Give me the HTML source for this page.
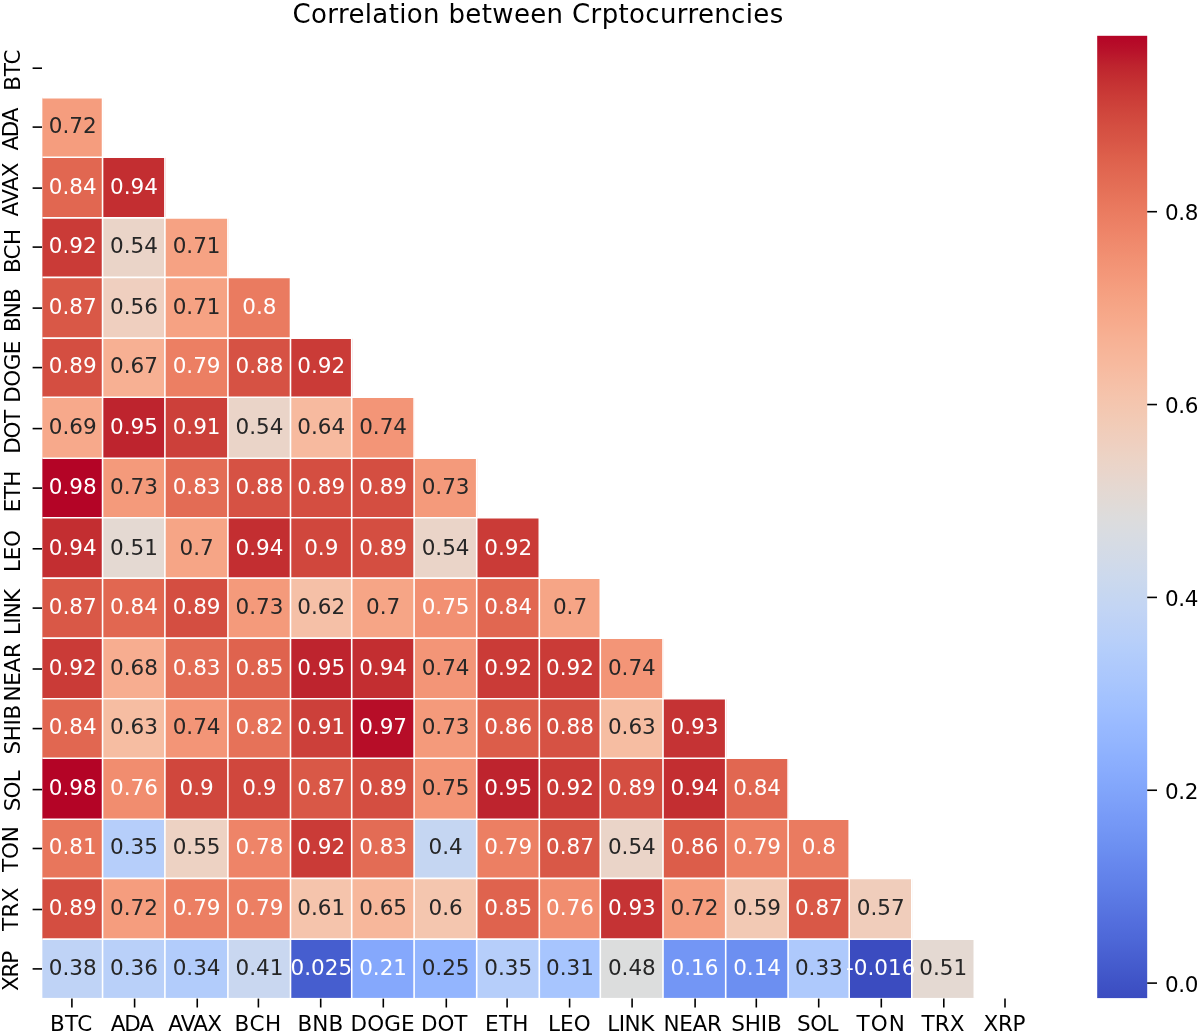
<!DOCTYPE html>
<html lang="en">
<head>
<meta charset="utf-8">
<title>Correlation between Crptocurrencies</title>
<style>
html,body{margin:0;padding:0;background:#fff;}
body{width:1200px;height:1033px;overflow:hidden;}
svg{display:block;filter:blur(0.45px);}
text{font-family:"DejaVu Sans","Liberation Sans",sans-serif;}
.a{font-size:21.5px;text-anchor:middle;letter-spacing:0px;}
.w{fill:#fff;}
.d{fill:#262626;}
.t{font-size:21.5px;fill:#000;}
.title{font-size:26.0px;fill:#000;}
.tk{stroke:#000;stroke-width:1.6;}
.gl{stroke:#fff;stroke-width:1.6;}
</style>
</head>
<body>
<svg width="1200" height="1033" viewBox="0 0 1200 1033">
<rect x="0" y="0" width="1200" height="1033" fill="#fff"/>
<defs><linearGradient id="cb" x1="0" y1="1" x2="0" y2="0">
<stop offset="0.0000" stop-color="#3b4cc0"/>
<stop offset="0.0156" stop-color="#3f53c6"/>
<stop offset="0.0312" stop-color="#445acc"/>
<stop offset="0.0469" stop-color="#4961d2"/>
<stop offset="0.0625" stop-color="#4e68d8"/>
<stop offset="0.0781" stop-color="#536edd"/>
<stop offset="0.0938" stop-color="#5875e1"/>
<stop offset="0.1094" stop-color="#5d7ce6"/>
<stop offset="0.1250" stop-color="#6282ea"/>
<stop offset="0.1406" stop-color="#6788ee"/>
<stop offset="0.1562" stop-color="#6c8ff1"/>
<stop offset="0.1719" stop-color="#7295f4"/>
<stop offset="0.1875" stop-color="#779af7"/>
<stop offset="0.2031" stop-color="#7da0f9"/>
<stop offset="0.2188" stop-color="#82a6fb"/>
<stop offset="0.2344" stop-color="#88abfd"/>
<stop offset="0.2500" stop-color="#8db0fe"/>
<stop offset="0.2656" stop-color="#93b5fe"/>
<stop offset="0.2812" stop-color="#98b9ff"/>
<stop offset="0.2969" stop-color="#9ebeff"/>
<stop offset="0.3125" stop-color="#a3c2fe"/>
<stop offset="0.3281" stop-color="#a9c6fd"/>
<stop offset="0.3438" stop-color="#aec9fc"/>
<stop offset="0.3594" stop-color="#b3cdfb"/>
<stop offset="0.3750" stop-color="#b9d0f9"/>
<stop offset="0.3906" stop-color="#bed2f6"/>
<stop offset="0.4062" stop-color="#c3d5f4"/>
<stop offset="0.4219" stop-color="#c7d7f0"/>
<stop offset="0.4375" stop-color="#ccd9ed"/>
<stop offset="0.4531" stop-color="#d1dae9"/>
<stop offset="0.4688" stop-color="#d5dbe5"/>
<stop offset="0.4844" stop-color="#d9dce1"/>
<stop offset="0.5000" stop-color="#dddcdc"/>
<stop offset="0.5156" stop-color="#e1dad6"/>
<stop offset="0.5312" stop-color="#e5d8d1"/>
<stop offset="0.5469" stop-color="#e9d5cb"/>
<stop offset="0.5625" stop-color="#ecd3c5"/>
<stop offset="0.5781" stop-color="#efcfbf"/>
<stop offset="0.5938" stop-color="#f1ccb8"/>
<stop offset="0.6094" stop-color="#f3c8b2"/>
<stop offset="0.6250" stop-color="#f5c4ac"/>
<stop offset="0.6406" stop-color="#f6bfa6"/>
<stop offset="0.6562" stop-color="#f7ba9f"/>
<stop offset="0.6719" stop-color="#f7b599"/>
<stop offset="0.6875" stop-color="#f7b093"/>
<stop offset="0.7031" stop-color="#f7aa8c"/>
<stop offset="0.7188" stop-color="#f6a586"/>
<stop offset="0.7344" stop-color="#f59f80"/>
<stop offset="0.7500" stop-color="#f4987a"/>
<stop offset="0.7656" stop-color="#f29274"/>
<stop offset="0.7812" stop-color="#f08b6e"/>
<stop offset="0.7969" stop-color="#ee8468"/>
<stop offset="0.8125" stop-color="#eb7d62"/>
<stop offset="0.8281" stop-color="#e8765c"/>
<stop offset="0.8438" stop-color="#e46e56"/>
<stop offset="0.8594" stop-color="#e16751"/>
<stop offset="0.8750" stop-color="#dd5f4b"/>
<stop offset="0.8906" stop-color="#d85646"/>
<stop offset="0.9062" stop-color="#d44e41"/>
<stop offset="0.9219" stop-color="#cf453c"/>
<stop offset="0.9375" stop-color="#ca3b37"/>
<stop offset="0.9531" stop-color="#c43032"/>
<stop offset="0.9688" stop-color="#be242e"/>
<stop offset="0.9844" stop-color="#b8122a"/>
<stop offset="1.0000" stop-color="#b40426"/>
</linearGradient></defs>
<text id="title" class="title lab" x="292.55" y="23" style="letter-spacing:0.36px">Correlation between Crptocurrencies</text>
<g>
<rect x="42.35" y="97.7" width="60.7" height="60" fill="#f59d7e"/>
<rect x="42.35" y="157.2" width="60.7" height="61.15" fill="#e16751"/>
<rect x="102.55" y="157.2" width="62.85" height="61.15" fill="#c32e31"/>
<rect x="42.35" y="217.85" width="60.7" height="60.05" fill="#ca3b37"/>
<rect x="102.55" y="217.85" width="62.85" height="60.05" fill="#ead4c8"/>
<rect x="164.9" y="217.85" width="63.5" height="60.05" fill="#f6a283"/>
<rect x="42.35" y="277.4" width="60.7" height="61.2" fill="#d95847"/>
<rect x="102.55" y="277.4" width="62.85" height="61.2" fill="#efcfbf"/>
<rect x="164.9" y="277.4" width="63.5" height="61.2" fill="#f6a283"/>
<rect x="227.9" y="277.4" width="63.1" height="61.2" fill="#ea7b60"/>
<rect x="42.35" y="338.1" width="60.7" height="59.7" fill="#d44e41"/>
<rect x="102.55" y="338.1" width="62.85" height="59.7" fill="#f7b093"/>
<rect x="164.9" y="338.1" width="63.5" height="59.7" fill="#ec7f63"/>
<rect x="227.9" y="338.1" width="63.1" height="59.7" fill="#d65244"/>
<rect x="290.5" y="338.1" width="61.7" height="59.7" fill="#ca3b37"/>
<rect x="42.35" y="397.3" width="60.7" height="61.4" fill="#f7a98b"/>
<rect x="102.55" y="397.3" width="62.85" height="61.4" fill="#be242e"/>
<rect x="164.9" y="397.3" width="63.5" height="61.4" fill="#cc403a"/>
<rect x="227.9" y="397.3" width="63.1" height="61.4" fill="#ead4c8"/>
<rect x="290.5" y="397.3" width="61.7" height="61.4" fill="#f7ba9f"/>
<rect x="351.7" y="397.3" width="62.9" height="61.4" fill="#f39577"/>
<rect x="42.35" y="458.2" width="60.7" height="60" fill="#b40426"/>
<rect x="102.55" y="458.2" width="62.85" height="60" fill="#f49a7b"/>
<rect x="164.9" y="458.2" width="63.5" height="60" fill="#e36c55"/>
<rect x="227.9" y="458.2" width="63.1" height="60" fill="#d65244"/>
<rect x="290.5" y="458.2" width="61.7" height="60" fill="#d44e41"/>
<rect x="351.7" y="458.2" width="62.9" height="60" fill="#d44e41"/>
<rect x="414.1" y="458.2" width="63.1" height="60" fill="#f49a7b"/>
<rect x="42.35" y="517.7" width="60.7" height="60.9" fill="#c32e31"/>
<rect x="102.55" y="517.7" width="62.85" height="60.9" fill="#e4d9d2"/>
<rect x="164.9" y="517.7" width="63.5" height="60.9" fill="#f6a586"/>
<rect x="227.9" y="517.7" width="63.1" height="60.9" fill="#c32e31"/>
<rect x="290.5" y="517.7" width="61.7" height="60.9" fill="#d0473d"/>
<rect x="351.7" y="517.7" width="62.9" height="60.9" fill="#d44e41"/>
<rect x="414.1" y="517.7" width="63.1" height="60.9" fill="#ead4c8"/>
<rect x="476.7" y="517.7" width="63.1" height="60.9" fill="#ca3b37"/>
<rect x="42.35" y="578.1" width="60.7" height="60.5" fill="#d95847"/>
<rect x="102.55" y="578.1" width="62.85" height="60.5" fill="#e16751"/>
<rect x="164.9" y="578.1" width="63.5" height="60.5" fill="#d44e41"/>
<rect x="227.9" y="578.1" width="63.1" height="60.5" fill="#f49a7b"/>
<rect x="290.5" y="578.1" width="61.7" height="60.5" fill="#f5c0a7"/>
<rect x="351.7" y="578.1" width="62.9" height="60.5" fill="#f6a586"/>
<rect x="414.1" y="578.1" width="63.1" height="60.5" fill="#f29072"/>
<rect x="476.7" y="578.1" width="63.1" height="60.5" fill="#e16751"/>
<rect x="539.3" y="578.1" width="61.5" height="60.5" fill="#f6a586"/>
<rect x="42.35" y="638.1" width="60.7" height="61.2" fill="#ca3b37"/>
<rect x="102.55" y="638.1" width="62.85" height="61.2" fill="#f7ad90"/>
<rect x="164.9" y="638.1" width="63.5" height="61.2" fill="#e36c55"/>
<rect x="227.9" y="638.1" width="63.1" height="61.2" fill="#df634e"/>
<rect x="290.5" y="638.1" width="61.7" height="61.2" fill="#be242e"/>
<rect x="351.7" y="638.1" width="62.9" height="61.2" fill="#c32e31"/>
<rect x="414.1" y="638.1" width="63.1" height="61.2" fill="#f39577"/>
<rect x="476.7" y="638.1" width="63.1" height="61.2" fill="#ca3b37"/>
<rect x="539.3" y="638.1" width="61.5" height="61.2" fill="#ca3b37"/>
<rect x="600.3" y="638.1" width="63.2" height="61.2" fill="#f39577"/>
<rect x="42.35" y="698.8" width="60.7" height="59.9" fill="#e16751"/>
<rect x="102.55" y="698.8" width="62.85" height="59.9" fill="#f6bda2"/>
<rect x="164.9" y="698.8" width="63.5" height="59.9" fill="#f39577"/>
<rect x="227.9" y="698.8" width="63.1" height="59.9" fill="#e67259"/>
<rect x="290.5" y="698.8" width="61.7" height="59.9" fill="#cc403a"/>
<rect x="351.7" y="698.8" width="62.9" height="59.9" fill="#b70d28"/>
<rect x="414.1" y="698.8" width="63.1" height="59.9" fill="#f49a7b"/>
<rect x="476.7" y="698.8" width="63.1" height="59.9" fill="#dc5d4a"/>
<rect x="539.3" y="698.8" width="61.5" height="59.9" fill="#d65244"/>
<rect x="600.3" y="698.8" width="63.2" height="59.9" fill="#f6bda2"/>
<rect x="663" y="698.8" width="63.2" height="59.9" fill="#c53334"/>
<rect x="42.35" y="758.2" width="60.7" height="61.5" fill="#b40426"/>
<rect x="102.55" y="758.2" width="62.85" height="61.5" fill="#f18d6f"/>
<rect x="164.9" y="758.2" width="63.5" height="61.5" fill="#d0473d"/>
<rect x="227.9" y="758.2" width="63.1" height="61.5" fill="#d0473d"/>
<rect x="290.5" y="758.2" width="61.7" height="61.5" fill="#d95847"/>
<rect x="351.7" y="758.2" width="62.9" height="61.5" fill="#d44e41"/>
<rect x="414.1" y="758.2" width="63.1" height="61.5" fill="#f39475"/>
<rect x="476.7" y="758.2" width="63.1" height="61.5" fill="#be242e"/>
<rect x="539.3" y="758.2" width="61.5" height="61.5" fill="#ca3b37"/>
<rect x="600.3" y="758.2" width="63.2" height="61.5" fill="#d44e41"/>
<rect x="663" y="758.2" width="63.2" height="61.5" fill="#c32e31"/>
<rect x="725.7" y="758.2" width="62.9" height="61.5" fill="#e16751"/>
<rect x="42.35" y="819.2" width="60.7" height="59.7" fill="#e8765c"/>
<rect x="102.55" y="819.2" width="62.85" height="59.7" fill="#b6cefa"/>
<rect x="164.9" y="819.2" width="63.5" height="59.7" fill="#edd2c3"/>
<rect x="227.9" y="819.2" width="63.1" height="59.7" fill="#ee8468"/>
<rect x="290.5" y="819.2" width="61.7" height="59.7" fill="#ca3b37"/>
<rect x="351.7" y="819.2" width="62.9" height="59.7" fill="#e36c55"/>
<rect x="414.1" y="819.2" width="63.1" height="59.7" fill="#c5d6f2"/>
<rect x="476.7" y="819.2" width="63.1" height="59.7" fill="#ec7f63"/>
<rect x="539.3" y="819.2" width="61.5" height="59.7" fill="#d95847"/>
<rect x="600.3" y="819.2" width="63.2" height="59.7" fill="#ead4c8"/>
<rect x="663" y="819.2" width="63.2" height="59.7" fill="#dc5d4a"/>
<rect x="725.7" y="819.2" width="62.9" height="59.7" fill="#ec7f63"/>
<rect x="788.1" y="819.2" width="61.6" height="59.7" fill="#ea7b60"/>
<rect x="42.35" y="878.4" width="60.7" height="61.2" fill="#d44e41"/>
<rect x="102.55" y="878.4" width="62.85" height="61.2" fill="#f59d7e"/>
<rect x="164.9" y="878.4" width="63.5" height="61.2" fill="#ec7f63"/>
<rect x="227.9" y="878.4" width="63.1" height="61.2" fill="#ec7f63"/>
<rect x="290.5" y="878.4" width="61.7" height="61.2" fill="#f5c4ac"/>
<rect x="351.7" y="878.4" width="62.9" height="61.2" fill="#f7b79b"/>
<rect x="414.1" y="878.4" width="63.1" height="61.2" fill="#f4c6af"/>
<rect x="476.7" y="878.4" width="63.1" height="61.2" fill="#df634e"/>
<rect x="539.3" y="878.4" width="61.5" height="61.2" fill="#f18d6f"/>
<rect x="600.3" y="878.4" width="63.2" height="61.2" fill="#c53334"/>
<rect x="663" y="878.4" width="63.2" height="61.2" fill="#f59d7e"/>
<rect x="725.7" y="878.4" width="62.9" height="61.2" fill="#f2c9b4"/>
<rect x="788.1" y="878.4" width="61.6" height="61.2" fill="#d95847"/>
<rect x="849.2" y="878.4" width="63.1" height="61.2" fill="#f0cdbb"/>
<rect x="42.35" y="939.1" width="60.7" height="58.8" fill="#bfd3f6"/>
<rect x="102.55" y="939.1" width="62.85" height="58.8" fill="#b9d0f9"/>
<rect x="164.9" y="939.1" width="63.5" height="58.8" fill="#b2ccfb"/>
<rect x="227.9" y="939.1" width="63.1" height="58.8" fill="#c9d7f0"/>
<rect x="290.5" y="939.1" width="61.7" height="58.8" fill="#465ecf"/>
<rect x="351.7" y="939.1" width="62.9" height="58.8" fill="#85a8fc"/>
<rect x="414.1" y="939.1" width="63.1" height="58.8" fill="#93b5fe"/>
<rect x="476.7" y="939.1" width="63.1" height="58.8" fill="#b6cefa"/>
<rect x="539.3" y="939.1" width="61.5" height="58.8" fill="#a7c5fe"/>
<rect x="600.3" y="939.1" width="63.2" height="58.8" fill="#dcdddd"/>
<rect x="663" y="939.1" width="63.2" height="58.8" fill="#7396f5"/>
<rect x="725.7" y="939.1" width="62.9" height="58.8" fill="#6c8ff1"/>
<rect x="788.1" y="939.1" width="61.6" height="58.8" fill="#aec9fc"/>
<rect x="849.2" y="939.1" width="63.1" height="58.8" fill="#3b4cc0"/>
<rect x="911.8" y="939.1" width="63" height="58.8" fill="#e4d9d2"/>
</g>
<g class="gl">
<line x1="42.35" y1="97.7" x2="103.35" y2="97.7"/>
<line x1="42.35" y1="157.2" x2="165.7" y2="157.2"/>
<line x1="42.35" y1="217.85" x2="228.7" y2="217.85"/>
<line x1="42.35" y1="277.4" x2="291.3" y2="277.4"/>
<line x1="42.35" y1="338.1" x2="352.5" y2="338.1"/>
<line x1="42.35" y1="397.3" x2="414.9" y2="397.3"/>
<line x1="42.35" y1="458.2" x2="477.5" y2="458.2"/>
<line x1="42.35" y1="517.7" x2="540.1" y2="517.7"/>
<line x1="42.35" y1="578.1" x2="601.1" y2="578.1"/>
<line x1="42.35" y1="638.1" x2="663.8" y2="638.1"/>
<line x1="42.35" y1="698.8" x2="726.5" y2="698.8"/>
<line x1="42.35" y1="758.2" x2="788.9" y2="758.2"/>
<line x1="42.35" y1="819.2" x2="850" y2="819.2"/>
<line x1="42.35" y1="878.4" x2="912.6" y2="878.4"/>
<line x1="42.35" y1="939.1" x2="975.1" y2="939.1"/>
<line x1="102.55" y1="96.9" x2="102.55" y2="997.9"/>
<line x1="164.9" y1="156.4" x2="164.9" y2="997.9"/>
<line x1="227.9" y1="217.05" x2="227.9" y2="997.9"/>
<line x1="290.5" y1="276.6" x2="290.5" y2="997.9"/>
<line x1="351.7" y1="337.3" x2="351.7" y2="997.9"/>
<line x1="414.1" y1="396.5" x2="414.1" y2="997.9"/>
<line x1="476.7" y1="457.4" x2="476.7" y2="997.9"/>
<line x1="539.3" y1="516.9" x2="539.3" y2="997.9"/>
<line x1="600.3" y1="577.3" x2="600.3" y2="997.9"/>
<line x1="663" y1="637.3" x2="663" y2="997.9"/>
<line x1="725.7" y1="698" x2="725.7" y2="997.9"/>
<line x1="788.1" y1="757.4" x2="788.1" y2="997.9"/>
<line x1="849.2" y1="818.4" x2="849.2" y2="997.9"/>
<line x1="911.8" y1="877.6" x2="911.8" y2="997.9"/>
<line x1="974.3" y1="938.3" x2="974.3" y2="997.9"/>
</g>
<g>
<text class="a d" x="72.65" y="132.8">0.72</text>
<text class="a w" x="72.65" y="193.8">0.84</text>
<text class="a w" x="133.92" y="193.8">0.94</text>
<text class="a w" x="72.65" y="252.8">0.92</text>
<text class="a d" x="133.92" y="252.8">0.54</text>
<text class="a d" x="196.6" y="252.8">0.71</text>
<text class="a w" x="72.65" y="313.8">0.87</text>
<text class="a d" x="133.92" y="313.8">0.56</text>
<text class="a d" x="196.6" y="313.8">0.71</text>
<text class="a w" x="259.4" y="313.8">0.8</text>
<text class="a w" x="72.65" y="373.3">0.89</text>
<text class="a d" x="133.92" y="373.3">0.67</text>
<text class="a w" x="196.6" y="373.3">0.79</text>
<text class="a w" x="259.4" y="373.3">0.88</text>
<text class="a w" x="321.3" y="373.3">0.92</text>
<text class="a d" x="72.65" y="434.3">0.69</text>
<text class="a w" x="133.92" y="434.3">0.95</text>
<text class="a w" x="196.6" y="434.3">0.91</text>
<text class="a d" x="259.4" y="434.3">0.54</text>
<text class="a d" x="321.3" y="434.3">0.64</text>
<text class="a d" x="383.1" y="434.3">0.74</text>
<text class="a w" x="72.65" y="493.8">0.98</text>
<text class="a d" x="133.92" y="493.8">0.73</text>
<text class="a w" x="196.6" y="493.8">0.83</text>
<text class="a w" x="259.4" y="493.8">0.88</text>
<text class="a w" x="321.3" y="493.8">0.89</text>
<text class="a w" x="383.1" y="493.8">0.89</text>
<text class="a d" x="445.6" y="493.8">0.73</text>
<text class="a w" x="72.65" y="554.5">0.94</text>
<text class="a d" x="133.92" y="554.5">0.51</text>
<text class="a d" x="196.6" y="554.5">0.7</text>
<text class="a w" x="259.4" y="554.5">0.94</text>
<text class="a w" x="321.3" y="554.5">0.9</text>
<text class="a w" x="383.1" y="554.5">0.89</text>
<text class="a d" x="445.6" y="554.5">0.54</text>
<text class="a w" x="508.2" y="554.5">0.92</text>
<text class="a w" x="72.65" y="613.8">0.87</text>
<text class="a w" x="133.92" y="613.8">0.84</text>
<text class="a w" x="196.6" y="613.8">0.89</text>
<text class="a d" x="259.4" y="613.8">0.73</text>
<text class="a d" x="321.3" y="613.8">0.62</text>
<text class="a d" x="383.1" y="613.8">0.7</text>
<text class="a w" x="445.6" y="613.8">0.75</text>
<text class="a w" x="508.2" y="613.8">0.84</text>
<text class="a d" x="570" y="613.8">0.7</text>
<text class="a w" x="72.65" y="674.7">0.92</text>
<text class="a d" x="133.92" y="674.7">0.68</text>
<text class="a w" x="196.6" y="674.7">0.83</text>
<text class="a w" x="259.4" y="674.7">0.85</text>
<text class="a w" x="321.3" y="674.7">0.95</text>
<text class="a w" x="383.1" y="674.7">0.94</text>
<text class="a d" x="445.6" y="674.7">0.74</text>
<text class="a w" x="508.2" y="674.7">0.92</text>
<text class="a w" x="570" y="674.7">0.92</text>
<text class="a d" x="631.85" y="674.7">0.74</text>
<text class="a w" x="72.65" y="734.3">0.84</text>
<text class="a d" x="133.92" y="734.3">0.63</text>
<text class="a d" x="196.6" y="734.3">0.74</text>
<text class="a w" x="259.4" y="734.3">0.82</text>
<text class="a w" x="321.3" y="734.3">0.91</text>
<text class="a w" x="383.1" y="734.3">0.97</text>
<text class="a d" x="445.6" y="734.3">0.73</text>
<text class="a w" x="508.2" y="734.3">0.86</text>
<text class="a w" x="570" y="734.3">0.88</text>
<text class="a d" x="631.85" y="734.3">0.63</text>
<text class="a w" x="694.55" y="734.3">0.93</text>
<text class="a w" x="72.65" y="795.3">0.98</text>
<text class="a w" x="133.92" y="795.3">0.76</text>
<text class="a w" x="196.6" y="795.3">0.9</text>
<text class="a w" x="259.4" y="795.3">0.9</text>
<text class="a w" x="321.3" y="795.3">0.87</text>
<text class="a w" x="383.1" y="795.3">0.89</text>
<text class="a d" x="445.6" y="795.3">0.75</text>
<text class="a w" x="508.2" y="795.3">0.95</text>
<text class="a w" x="570" y="795.3">0.92</text>
<text class="a w" x="631.85" y="795.3">0.89</text>
<text class="a w" x="694.55" y="795.3">0.94</text>
<text class="a w" x="757.1" y="795.3">0.84</text>
<text class="a w" x="72.65" y="854.2">0.81</text>
<text class="a d" x="133.92" y="854.2">0.35</text>
<text class="a d" x="196.6" y="854.2">0.55</text>
<text class="a w" x="259.4" y="854.2">0.78</text>
<text class="a w" x="321.3" y="854.2">0.92</text>
<text class="a w" x="383.1" y="854.2">0.83</text>
<text class="a d" x="445.6" y="854.2">0.4</text>
<text class="a w" x="508.2" y="854.2">0.79</text>
<text class="a w" x="570" y="854.2">0.87</text>
<text class="a d" x="631.85" y="854.2">0.54</text>
<text class="a w" x="694.55" y="854.2">0.86</text>
<text class="a w" x="757.1" y="854.2">0.79</text>
<text class="a w" x="818.85" y="854.2">0.8</text>
<text class="a w" x="72.65" y="915.2">0.89</text>
<text class="a d" x="133.92" y="915.2">0.72</text>
<text class="a w" x="196.6" y="915.2">0.79</text>
<text class="a w" x="259.4" y="915.2">0.79</text>
<text class="a d" x="321.3" y="915.2">0.61</text>
<text class="a d" x="383.1" y="915.2">0.65</text>
<text class="a d" x="445.6" y="915.2">0.6</text>
<text class="a w" x="508.2" y="915.2">0.85</text>
<text class="a w" x="570" y="915.2">0.76</text>
<text class="a w" x="631.85" y="915.2">0.93</text>
<text class="a d" x="694.55" y="915.2">0.72</text>
<text class="a d" x="757.1" y="915.2">0.59</text>
<text class="a w" x="818.85" y="915.2">0.87</text>
<text class="a d" x="880.7" y="915.2">0.57</text>
<text class="a d" x="72.65" y="974.6">0.38</text>
<text class="a d" x="133.92" y="974.6">0.36</text>
<text class="a d" x="196.6" y="974.6">0.34</text>
<text class="a d" x="259.4" y="974.6">0.41</text>
<text class="a w" x="321.3" y="974.6">0.025</text>
<text class="a w" x="383.1" y="974.6">0.21</text>
<text class="a d" x="445.6" y="974.6">0.25</text>
<text class="a d" x="508.2" y="974.6">0.35</text>
<text class="a d" x="570" y="974.6">0.31</text>
<text class="a d" x="631.85" y="974.6">0.48</text>
<text class="a w" x="694.55" y="974.6">0.16</text>
<text class="a w" x="757.1" y="974.6">0.14</text>
<text class="a d" x="818.85" y="974.6">0.33</text>
<text class="a w" x="880.7" y="974.6">-0.016</text>
<text class="a d" x="943.25" y="974.6">0.51</text>
</g>
<g class="tk">
<line x1="71.9" y1="998.6" x2="71.9" y2="1007.5"/>
<line x1="32.6" y1="68.2" x2="42.0" y2="68.2"/>
<line x1="134.6" y1="998.6" x2="134.6" y2="1007.5"/>
<line x1="32.6" y1="127.1" x2="42.0" y2="127.1"/>
<line x1="197.25" y1="998.6" x2="197.25" y2="1007.5"/>
<line x1="32.6" y1="188.1" x2="42.0" y2="188.1"/>
<line x1="258.4" y1="998.6" x2="258.4" y2="1007.5"/>
<line x1="32.6" y1="247.1" x2="42.0" y2="247.1"/>
<line x1="320.7" y1="998.6" x2="320.7" y2="1007.5"/>
<line x1="32.6" y1="308.1" x2="42.0" y2="308.1"/>
<line x1="383.3" y1="998.6" x2="383.3" y2="1007.5"/>
<line x1="32.6" y1="367.6" x2="42.0" y2="367.6"/>
<line x1="446.3" y1="998.6" x2="446.3" y2="1007.5"/>
<line x1="32.6" y1="428.6" x2="42.0" y2="428.6"/>
<line x1="507.1" y1="998.6" x2="507.1" y2="1007.5"/>
<line x1="32.6" y1="488.1" x2="42.0" y2="488.1"/>
<line x1="569.6" y1="998.6" x2="569.6" y2="1007.5"/>
<line x1="32.6" y1="548.8" x2="42.0" y2="548.8"/>
<line x1="632.1" y1="998.6" x2="632.1" y2="1007.5"/>
<line x1="32.6" y1="608.1" x2="42.0" y2="608.1"/>
<line x1="695.1" y1="998.6" x2="695.1" y2="1007.5"/>
<line x1="32.6" y1="669" x2="42.0" y2="669"/>
<line x1="756.3" y1="998.6" x2="756.3" y2="1007.5"/>
<line x1="32.6" y1="728.6" x2="42.0" y2="728.6"/>
<line x1="818.7" y1="998.6" x2="818.7" y2="1007.5"/>
<line x1="32.6" y1="789.6" x2="42.0" y2="789.6"/>
<line x1="881.3" y1="998.6" x2="881.3" y2="1007.5"/>
<line x1="32.6" y1="848.5" x2="42.0" y2="848.5"/>
<line x1="943.8" y1="998.6" x2="943.8" y2="1007.5"/>
<line x1="32.6" y1="909.5" x2="42.0" y2="909.5"/>
<line x1="1005" y1="998.6" x2="1005" y2="1007.5"/>
<line x1="32.6" y1="968.9" x2="42.0" y2="968.9"/>
</g>
<g class="t">
<text id="x_BTC" class="lab" x="50.05" y="1030.6" style="letter-spacing:0.29px">BTC</text>
<text id="x_ADA" class="lab" x="110.8" y="1030.6" style="letter-spacing:-1.17px">ADA</text>
<text id="x_AVAX" class="lab" x="168.25" y="1030.6" style="letter-spacing:-0.78px">AVAX</text>
<text id="x_BCH" class="lab" x="234.4" y="1030.6" style="letter-spacing:0.63px">BCH</text>
<text id="x_BNB" class="lab" x="297.4" y="1030.6" style="letter-spacing:0.18px">BNB</text>
<text id="x_DOGE" class="lab" x="350.5" y="1030.6" style="letter-spacing:0.12px">DOGE</text>
<text id="x_DOT" class="lab" x="420.9" y="1030.6" style="letter-spacing:-0.04px">DOT</text>
<text id="x_ETH" class="lab" x="485.05" y="1030.6" style="letter-spacing:0.29px">ETH</text>
<text id="x_LEO" class="lab" x="548.05" y="1030.6" style="letter-spacing:0.07px">LEO</text>
<text id="x_LINK" class="lab" x="607.25" y="1030.6" style="letter-spacing:-0.48px">LINK</text>
<text id="x_NEAR" class="lab" x="663.55" y="1030.6" style="letter-spacing:-0.33px">NEAR</text>
<text id="x_SHIB" class="lab" x="731.25" y="1030.6" style="letter-spacing:-0.1px">SHIB</text>
<text id="x_SOL" class="lab" x="797.05" y="1030.6" style="letter-spacing:-0.5px">SOL</text>
<text id="x_TON" class="lab" x="856.4" y="1030.6" style="letter-spacing:1.19px">TON</text>
<text id="x_TRX" class="lab" x="921.4" y="1030.6" style="letter-spacing:0.18px">TRX</text>
<text id="x_XRP" class="lab" x="983.45" y="1030.6" style="letter-spacing:-0.27px">XRP</text>
<text id="y_BTC" class="lab" transform="translate(20.3 90.7) rotate(-90)" style="letter-spacing:-0.27px">BTC</text>
<text id="y_ADA" class="lab" transform="translate(18.4 150.45) rotate(-90)" style="letter-spacing:-1.4px">ADA</text>
<text id="y_AVAX" class="lab" transform="translate(18.4 216.4) rotate(-90)" style="letter-spacing:-0.7px">AVAX</text>
<text id="y_BCH" class="lab" transform="translate(20.3 273.05) rotate(-90)" style="letter-spacing:-0.72px">BCH</text>
<text id="y_BNB" class="lab" transform="translate(20.3 332.1) rotate(-90)" style="letter-spacing:-0.83px">BNB</text>
<text id="y_DOGE" class="lab" transform="translate(20.3 402.65) rotate(-90)" style="letter-spacing:-0.56px">DOGE</text>
<text id="y_DOT" class="lab" transform="translate(20.3 453.7) rotate(-90)" style="letter-spacing:-1.4px">DOT</text>
<text id="y_ETH" class="lab" transform="translate(20.3 512.15) rotate(-90)" style="letter-spacing:-0.61px">ETH</text>
<text id="y_LEO" class="lab" transform="translate(20.3 571.9) rotate(-90)" style="letter-spacing:-0.38px">LEO</text>
<text id="y_LINK" class="lab" transform="translate(20.3 635.05) rotate(-90)" style="letter-spacing:-0.78px">LINK</text>
<text id="y_NEAR" class="lab" transform="translate(20.3 701.4) rotate(-90)" style="letter-spacing:-0.33px">NEAR</text>
<text id="y_SHIB" class="lab" transform="translate(20.3 754.45) rotate(-90)" style="letter-spacing:-0.41px">SHIB</text>
<text id="y_SOL" class="lab" transform="translate(20.3 811.2) rotate(-90)" style="letter-spacing:-0.83px">SOL</text>
<text id="y_TON" class="lab" transform="translate(18.4 871.95) rotate(-90)" style="letter-spacing:-0.16px">TON</text>
<text id="y_TRX" class="lab" transform="translate(18.4 930.95) rotate(-90)" style="letter-spacing:0.29px">TRX</text>
<text id="y_XRP" class="lab" transform="translate(18.4 991.1) rotate(-90)" style="letter-spacing:-1.17px">XRP</text>
</g>
<rect x="1097.2" y="35.8" width="50" height="962.3" fill="url(#cb)"/>
<g class="tk">
<line x1="1147.2" y1="983.1" x2="1157" y2="983.1"/>
<line x1="1147.2" y1="790.25" x2="1157" y2="790.25"/>
<line x1="1147.2" y1="597.4" x2="1157" y2="597.4"/>
<line x1="1147.2" y1="404.55" x2="1157" y2="404.55"/>
<line x1="1147.2" y1="211.7" x2="1157" y2="211.7"/>
</g>
<g class="t">
<text class="cbl" x="1164.9" y="991.5" style="letter-spacing:-0.35px">0.0</text>
<text class="cbl" x="1164.9" y="798.65" style="letter-spacing:-0.35px">0.2</text>
<text class="cbl" x="1164.9" y="605.8" style="letter-spacing:-0.35px">0.4</text>
<text class="cbl" x="1164.9" y="412.95" style="letter-spacing:-0.35px">0.6</text>
<text class="cbl" x="1164.9" y="220.1" style="letter-spacing:-0.35px">0.8</text>
</g>
</svg>
</body>
</html>
